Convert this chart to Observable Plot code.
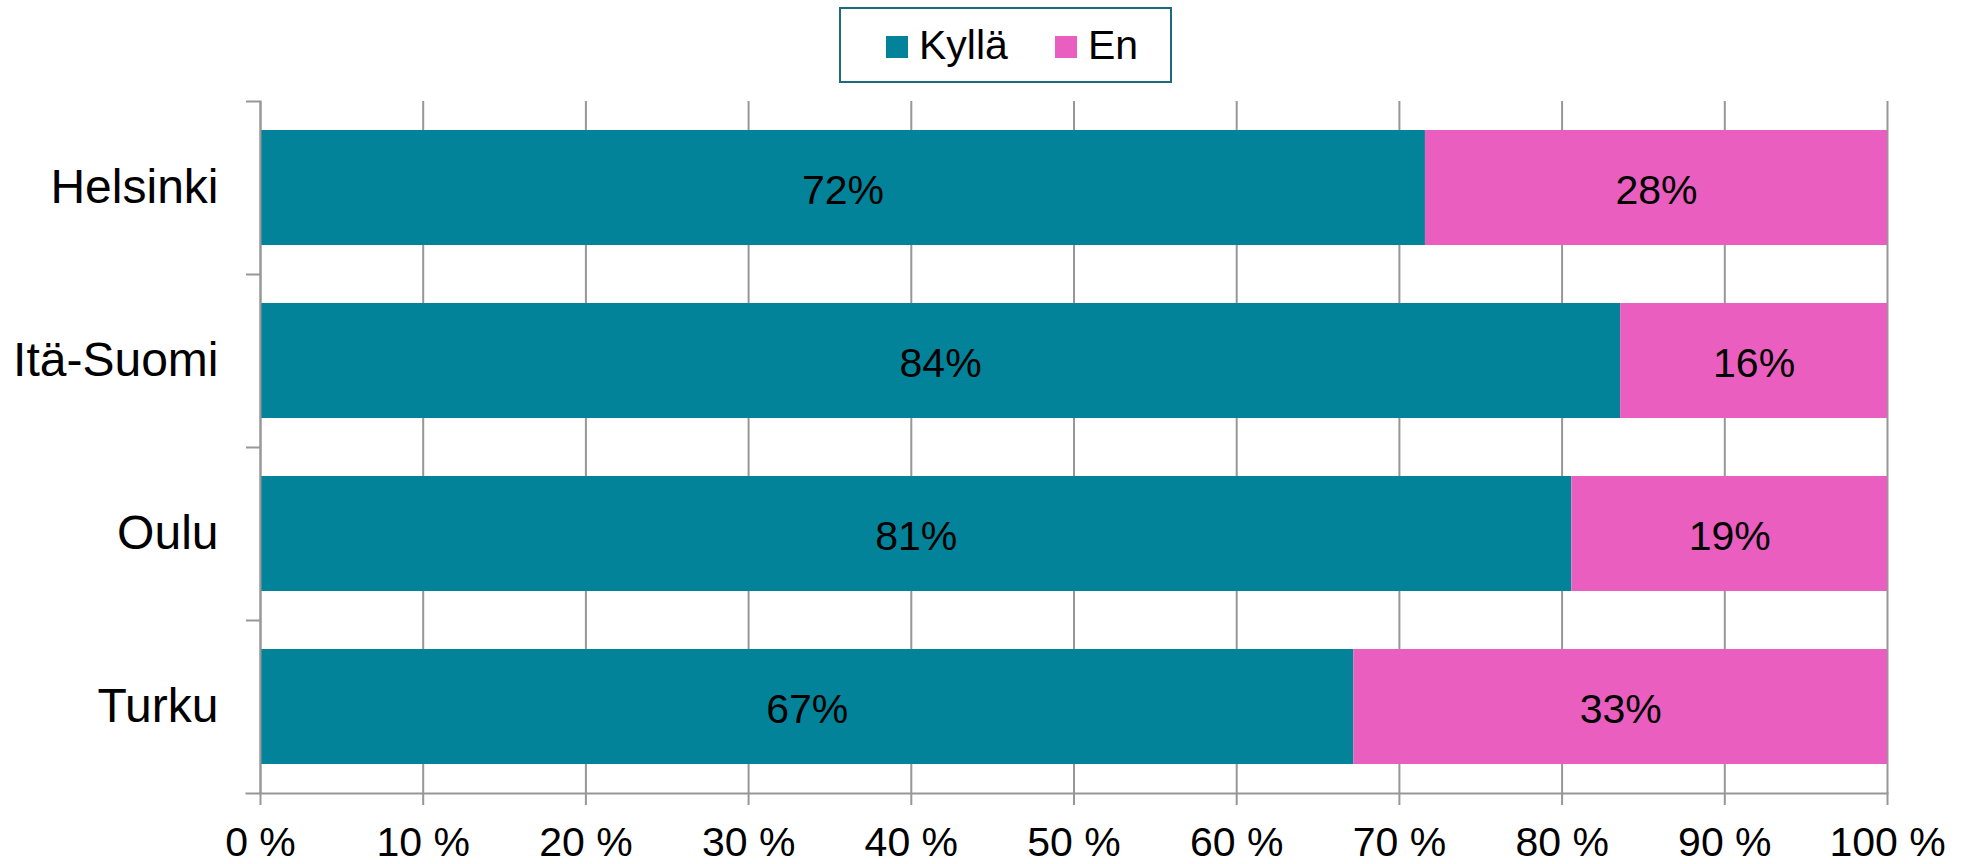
<!DOCTYPE html>
<html><head><meta charset="utf-8">
<script src="https://cdn.jsdelivr.net/npm/d3@7"></script>
<script src="https://cdn.jsdelivr.net/npm/@observablehq/plot@0.6"></script>
<style>
body{margin:0;background:#fff;font-family:"Liberation Sans",Arial,sans-serif;}
#wrap{position:relative;width:1962px;height:864px;background:#fff;}
#legend{position:absolute;left:839px;top:7px;width:333px;height:76px;box-sizing:border-box;border:2px solid #1b6b7b;display:flex;align-items:center;padding-left:45px;font-size:41px;color:#000;line-height:1;}
#legend .sw{width:22px;height:22px;flex:none;margin-top:4px;}
#legend .lab{margin-left:11px;}
#legend .item2{margin-left:47px;}
#chart{position:absolute;left:0;top:90px;}
</style></head>
<body><div id="wrap"><div id="legend"></div><div id="chart"></div></div>
<script>
const cities = ["Helsinki", "Itä-Suomi", "Oulu", "Turku"];
const series = ["Kyllä", "En"];
const kylla = [0.716, 0.836, 0.806, 0.672];
const en = [0.284, 0.164, 0.194, 0.328];
const xTicks = [0, 0.1, 0.2, 0.3, 0.4, 0.5, 0.6, 0.7, 0.8, 0.9, 1];
const colors = ["#028399", "#e95ebe"];

const data = [];
cities.forEach((c, i) => {
  data.push({city: c, answer: series[0], value: kylla[i]});
  data.push({city: c, answer: series[1], value: en[i]});
});

// legend
const legend = document.getElementById("legend");
series.forEach((s, i) => {
  const sw = document.createElement("span");
  sw.className = "sw" + (i > 0 ? " item2" : "");
  sw.style.background = colors[i];
  const lab = document.createElement("span");
  lab.className = "lab";
  lab.textContent = s;
  legend.appendChild(sw);
  legend.appendChild(lab);
});

const width = 1962, height = 774;
const marginTop = 11, marginBottom = 71, marginLeft = 260, marginRight = 75;
const step = (height - marginTop - marginBottom) / cities.length;
const gray = "#979797";

const chart = Plot.plot({
  width, height, marginTop, marginBottom, marginLeft, marginRight,
  style: {fontFamily: "'Liberation Sans', Arial, sans-serif", fontSize: "41px", background: "#fff", color: "#000"},
  x: {domain: [0, 1], label: null},
  y: {domain: cities, paddingInner: 0.335, paddingOuter: 0.1675, label: null},
  color: {domain: series, range: colors},
  marks: [
    Plot.ruleX(xTicks, {x: d => d, stroke: gray, strokeWidth: 2, insetBottom: -12}),
    Plot.barX(data, {x: "value", y: "city", fill: "answer"}),
    Plot.text(data, Plot.stackX({x: "value", y: "city", z: "answer",
      text: d => Math.round(d.value * 100) + "%", fontSize: 41, fill: "#000", dy: 3})),
    Plot.frame({anchor: "left", stroke: gray, strokeWidth: 2}),
    Plot.frame({anchor: "bottom", stroke: gray, strokeWidth: 2, insetLeft: -14}),
    Plot.ruleY(cities, {y: d => d, x1: 0, x2: 0, insetLeft: -14, dy: -step / 2, stroke: gray, strokeWidth: 2}),
    Plot.axisX({ticks: xTicks, tickSize: 0, tickPadding: 33, fontSize: 41, label: null,
      tickFormat: d => Math.round(d * 100) + " %"}),
    Plot.axisY({tickSize: 0, tickPadding: 42, fontSize: 48, label: null})
  ]
});
document.getElementById("chart").appendChild(chart);
</script>
</body></html>
